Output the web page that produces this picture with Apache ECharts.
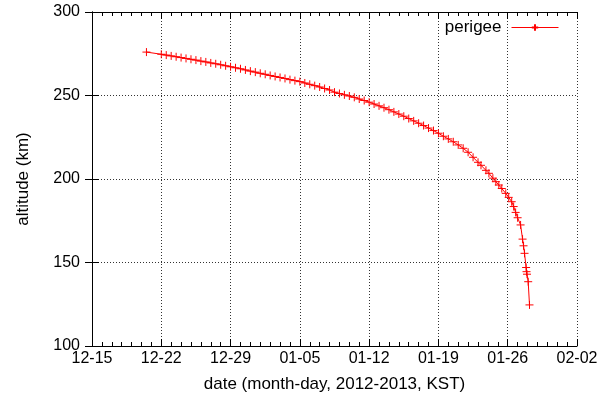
<!DOCTYPE html>
<html>
<head>
<meta charset="utf-8">
<script src="https://cdn.jsdelivr.net/npm/echarts@6/dist/echarts.min.js"></script>
<style>html,body{margin:0;padding:0;background:#fff;}#c{width:610px;height:398px;}</style>
</head>
<body>
<div id="c"></div>
<script>
// day offsets from 2012-12-15 (KST)
const days = [5.5,7.0,7.5,8.0,8.5,9.0,9.5,10.0,10.5,11.0,11.5,12.0,12.5,13.0,13.5,14.0,14.5,15.0,15.5,16.0,16.5,17.0,17.5,18.0,18.5,19.0,19.5,20.0,20.5,21.0,21.5,22.0,22.5,23.0,23.5,24.0,24.5,25.0,25.5,26.0,26.5,27.0,27.5,28.0,28.5,29.0,29.5,30.0,30.5,31.0,31.5,32.0,32.5,33.0,33.5,34.0,34.5,35.0,35.5,36.0,36.5,37.0,37.5,38.0,38.5,39.0,39.3,39.8,40.1,40.5,40.8,41.1,41.4,41.8,42.1,42.4,42.6,42.8,43.0,43.3,43.5,43.6,43.7,43.86,43.9,43.95,44.07,44.2];
const perigee = [276.0,274.7,274.2,273.7,273.2,272.7,272.2,271.7,271.2,270.6,270.1,269.5,269.0,268.4,267.8,267.2,266.6,266.0,265.3,264.6,264.0,263.3,262.7,262.0,261.4,260.8,260.2,259.5,258.9,258.3,257.5,256.7,255.9,255.1,254.2,253.3,252.0,251.2,250.4,249.7,248.9,247.9,247.0,246.0,244.9,243.8,242.7,241.5,240.2,238.9,237.6,236.2,234.8,233.4,232.0,230.5,229.0,227.4,225.6,224.0,222.3,220.4,218.4,216.0,213.0,210.0,208.2,205.2,203.4,200.5,198.4,196.4,194.3,191.4,189.0,186.4,183.5,180.0,176.8,172.5,164.0,160.0,155.5,147.0,144.5,143.0,138.5,124.6];
const xTickLabels = ['12-15','12-22','12-29','01-05','01-12','01-19','01-26','02-02'];
const yTicks = [100,150,200,250,300];

const FONT = 'Liberation Sans';
const chart = echarts.init(document.getElementById('c'));
const cross = 'path://M0,5L10,5M5,0L5,10';
chart.setOption({
  animation: false,
  color: ['#ff0000'],
  textStyle: {fontFamily: FONT, color: '#000'},
  grid: {left: 92, right: 33, top: 12, bottom: 52},
  legend: {
    right: 46, top: 14, align: 'right', itemWidth: 47, itemHeight: 8, itemGap: 10,
    textStyle: {fontFamily: FONT, fontSize: 17, color: '#000', padding: [0, 5, 0, 0]},
    lineStyle: {width: 1, color: '#ff0000'},
    data: ['perigee']
  },
  xAxis: [{
    type: 'value', min: 0, max: 49, interval: 7,
    name: 'date (month-day, 2012-2013, KST)', nameLocation: 'middle', nameGap: 30,
    nameTextStyle: {fontFamily: FONT, fontSize: 17, color: '#000'},
    axisLine: {lineStyle: {color: '#000', width: 1}},
    axisTick: {inside: true, length: 7, lineStyle: {color: '#000'}},
    minorTick: {show: true, splitNumber: 7, length: 4, lineStyle: {color: '#000'}},
    axisLabel: {fontFamily: FONT, fontSize: 16, color: '#000', margin: 5,
      formatter: v => xTickLabels[Math.round(v / 7)]},
    splitLine: {show: true, lineStyle: {color: '#333', type: [1, 2], width: 1}}
  }, {
    type: 'value', min: 0, max: 49, interval: 7, position: 'top',
    axisLine: {lineStyle: {color: '#000', width: 1}},
    axisTick: {inside: true, length: 7, lineStyle: {color: '#000'}},
    minorTick: {show: true, splitNumber: 7, length: 4, lineStyle: {color: '#000'}},
    axisLabel: {show: false}, splitLine: {show: false}
  }],
  yAxis: [{
    type: 'value', min: yTicks[0], max: yTicks[yTicks.length - 1], interval: 50,
    name: 'altitude (km)', nameLocation: 'middle', nameGap: 60,
    nameTextStyle: {fontFamily: FONT, fontSize: 17, color: '#000'},
    axisLine: {show: true, lineStyle: {color: '#000', width: 1}},
    axisTick: {show: true, inside: true, length: 7, lineStyle: {color: '#000'}},
    axisLabel: {fontFamily: FONT, fontSize: 16, color: '#000', margin: 12},
    splitLine: {show: true, lineStyle: {color: '#333', type: [1, 2], width: 1}}
  }, {
    type: 'value', min: yTicks[0], max: yTicks[yTicks.length - 1], interval: 50, position: 'right',
    axisLine: {show: true, lineStyle: {color: '#000', width: 1}},
    axisTick: {show: true, inside: true, length: 7, lineStyle: {color: '#000'}},
    axisLabel: {show: false}, splitLine: {show: false}
  }],
  series: [{
    name: 'perigee', type: 'line', color: '#ff0000',
    data: days.map((d, i) => [d, perigee[i]]),
    symbol: cross, symbolSize: 8, showSymbol: true,
    lineStyle: {color: '#ff0000', width: 1},
    itemStyle: {color: '#ff0000', borderColor: '#ff0000', borderWidth: 1}
  }]
});
</script>
</body>
</html>
